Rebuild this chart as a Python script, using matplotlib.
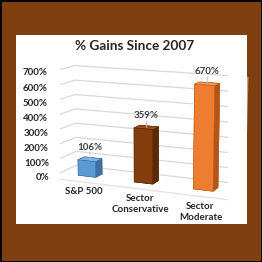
import numpy as np
import matplotlib.pyplot as plt
from matplotlib.patches import Rectangle

categories = ["S&P 500", "Sector\nConservative", "Sector\nModerate"]
gains = [106, 359, 670]
ticks = [0, 100, 200, 300, 400, 500, 600, 700]
tick_labels = [f"{t}%" for t in ticks]
title = "% Gains Since 2007"

front_colors = ["#5B9BD5", "#843C0C", "#ED7D31"]
side_colors = ["#3E6F9E", "#5A2906", "#B0561C"]
top_colors = ["#7DB0E0", "#9A4C1A", "#F3995A"]
edge_colors = ["#41719C", "#5A2906", "#C55A11"]

plt.rcParams["font.family"] = ["Lato", "DejaVu Sans"]

fig = plt.figure(figsize=(2.62, 2.62), dpi=100)
fig.patch.set_facecolor("#7E3E0F")
fig.patch.set_edgecolor("black")
fig.patch.set_linewidth(2)

# white card
fig.add_artist(Rectangle((16/262, 38/262), 231/262, 189/262,
                         transform=fig.transFigure, facecolor="white",
                         edgecolor="none", zorder=0))

fig.text(135/262, 1 - 46/262, title, ha="center", va="center",
         fontsize=9.8, fontweight="bold", color="#262626")

ax = fig.add_axes([0.12, 0.18, 0.86, 0.64], projection="3d",
                  computed_zorder=False)
ax.set_facecolor("none")
ax.set_xlim(0, 3)
ax.set_ylim(0, 1)
ax.set_zlim(0, 700)
ax.set_box_aspect((180, 54, 102), zoom=1.32)
ax.view_init(elev=12, azim=-66)
ax.set_proj_type("persp", focal_length=1.0)

for a in (ax.xaxis, ax.yaxis, ax.zaxis):
    a.pane.set_facecolor((1, 1, 1, 0))
    a.pane.set_edgecolor("none")
    a.line.set_color("none")
ax.grid(False)
ax.set_xticks([])
ax.set_yticks([])
ax.set_zticks([])

# gridlines on side wall and back wall, plus floor front edge
for t in ticks:
    ax.plot([0, 0, 3], [0, 1, 1], [t, t, t], color="#D9D9D9", lw=0.9,
            zorder=1)
ax.plot([0, 3], [0, 0], [0, 0], color="#E3E3E3", lw=0.9, zorder=1)

w, d = 0.32, 0.25
yc = 0.5
for i, g in enumerate(gains):
    x0 = i + 0.5 - w / 2
    f, s, t = front_colors[i], side_colors[i], top_colors[i]
    # faces: bottom, top, front, back, left, right
    ax.bar3d(x0, yc - d / 2, 0, w, d, g, color=[f, t, f, f, f, s],
             shade=False, edgecolor=edge_colors[i], linewidth=0.4,
             zorder=2)
    ax.plot([i + 0.5, i + 0.5], [yc, yc], [g, g + 45],
            color="#BFBFBF", lw=0.6, zorder=3)
    ax.text(i + 0.5, yc, g + 50, f"{g}%", ha="center", va="bottom",
            fontsize=7, fontweight="bold", color="#404040")
    ax.text(i + 0.5, 0.25, -62, categories[i], ha="center", va="top",
            fontsize=7, fontweight="bold", color="#262626", linespacing=1.3)

for t, lab in zip(ticks, tick_labels):
    ax.text(0.0, 0, t, lab, ha="right", va="center", fontsize=7,
            fontweight="bold", color="#262626")

fig.savefig("out.png", dpi=100, facecolor=fig.get_facecolor(),
            edgecolor=fig.get_edgecolor())
